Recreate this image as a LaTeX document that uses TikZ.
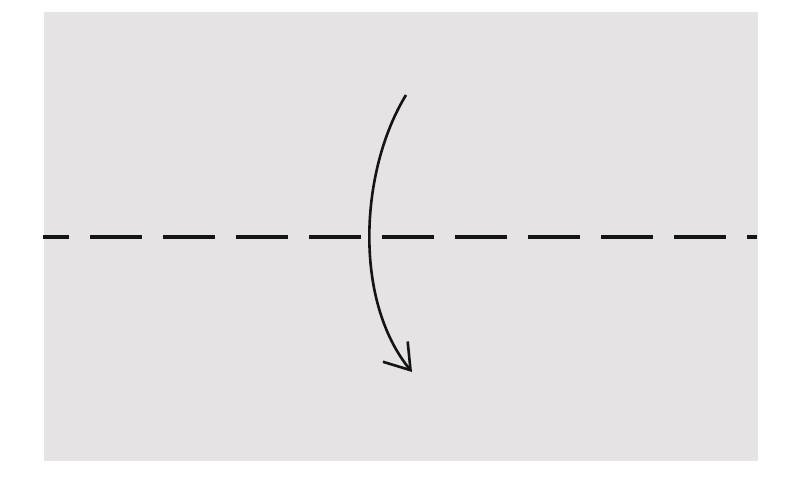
\documentclass[tikz,border=0pt]{standalone}
\usetikzlibrary{arrows.meta}
\definecolor{paper}{RGB}{229,227,227}
\definecolor{ink}{RGB}{20,20,20}
\tikzset{
  foldline/.style={ink, line width=4.5pt, dash pattern=on 52pt off 21pt, dash phase=26pt},
  foldarrow/.style={ink, line width=2.6pt, -{Straight Barb[length=24pt,width=32pt,line width=2.6pt]}}
}
\begin{document}
\begin{tikzpicture}[x=1pt,y=-1pt]
  \useasboundingbox (0,0) rectangle (795,501);
  \fill[white] (0,0) rectangle (795,501);
  \fill[paper] (44,12) rectangle (758,461);
  \coordinate (lineL) at (43,237);
  \coordinate (lineR) at (757,237);
  \draw[foldline] (lineL) -- (lineR);
  \coordinate (arrS) at (406,95);
  \coordinate (arrE) at (412,372);
  \draw[foldarrow] (arrS) .. controls (360,170) and (353,300) .. (arrE);
\end{tikzpicture}
\end{document}
